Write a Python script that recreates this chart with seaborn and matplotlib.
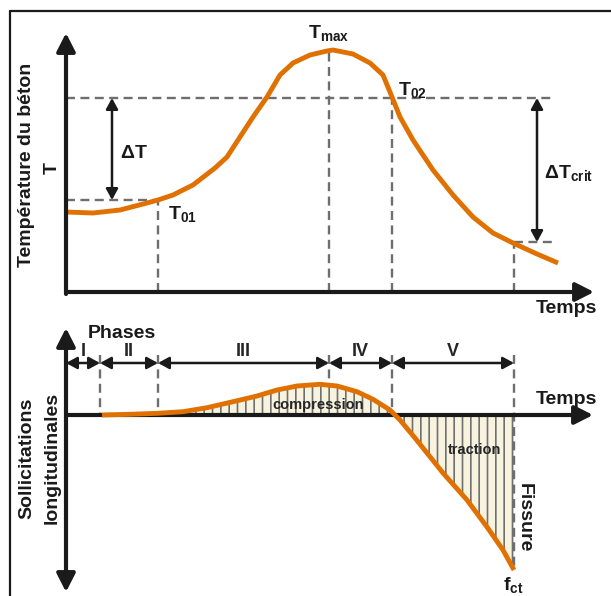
import matplotlib
matplotlib.use("Agg")
import matplotlib.pyplot as plt
from matplotlib.lines import Line2D
import seaborn as sns

# temperature curve (time and temperature in arbitrary units)
time_temp = [0.0, 2.7, 5.4, 8.1, 9.2, 10.7, 12.7, 14.9, 16.1, 17.4, 18.7, 20.1,
             21.4, 22.7, 24.4, 26.1, 26.7, 28.7, 30.4, 31.7, 32.6, 33.4, 34.7,
             36.7, 38.7, 40.7, 42.7, 44.7, 47.1, 49.2]
temperature = [8.0, 7.9, 8.2, 8.9, 9.2, 9.7, 10.7, 12.4, 13.5, 15.5, 17.5, 19.5,
               21.7, 22.9, 23.7, 24.1, 24.2, 23.8, 22.9, 21.7, 19.5, 17.5, 15.2,
               12.2, 9.7, 7.5, 5.9, 4.9, 3.8, 2.9]

# longitudinal stress curve
time_stress = [3.6, 6.4, 9.2, 11.7, 14.1, 16.7, 19.1, 21.1, 23.1, 25.4, 27.1,
               29.1, 30.7, 32.4, 33.4, 34.9, 37.7, 40.1, 42.1, 43.7, 44.8]
stress = [0.0, 0.07, 0.17, 0.33, 0.73, 1.33, 1.9, 2.5, 2.9, 3.07, 2.9,
          2.33, 1.57, 0.5, -0.5, -2.3, -5.8, -8.5, -11.2, -13.5, -15.5]

# key instants and levels
t01, tmax, t02, tcrit = 9.2, 26.3, 32.6, 44.8
T01, Tmax, T02, Tcrit = 9.2, 24.2, 19.4, 5.0
phase_bounds = [0.0, 3.4, 9.2, 26.3, 32.6, 44.8]
phase_labels = ["I", "II", "III", "IV", "V"]
stress_at_tmax = 3.05
stress_at_crack = -15.5

orange = "#E07000"
dash_col = "#6e6e6e"
dash = (0, (3.8, 2.3))
dash_lw = 1.7

sns.set_theme(style="white")
plt.rcParams["font.family"] = ["Liberation Sans", "DejaVu Sans"]
plt.rcParams["mathtext.fontset"] = "custom"
plt.rcParams["mathtext.rm"] = "Liberation Sans"
plt.rcParams["mathtext.bf"] = "Liberation Sans:bold"
plt.rcParams["hatch.linewidth"] = 1.2
plt.rcParams["hatch.color"] = "#707070"

W, H = 611, 596
fig = plt.figure(figsize=(W / 100, H / 100), dpi=100)

# frame around the figure (left and top edges visible)
fig.add_artist(Line2D([10 / W, 10 / W], [-0.1, 1 - 11 / H], transform=fig.transFigure, color="k", lw=1.6))
fig.add_artist(Line2D([10 / W, 1.1], [1 - 11 / H, 1 - 11 / H], transform=fig.transFigure, color="k", lw=1.6))

ax_top = fig.add_axes([66 / W, 1 - 292 / H, 534 / W, 262 / H])
ax_bot = fig.add_axes([66 / W, 1 - 595 / H, 534 / W, 270 / H])
for ax in (ax_top, ax_bot):
    ax.set_axis_off()
    ax.set_xlim(0, 53.4)
ax_top.set_ylim(0, 26.2)
ax_bot.set_ylim(-18, 9)

axis_arrow = dict(arrowstyle="-|>,head_length=0.55,head_width=0.28", lw=3.0, color="k",
                  mutation_scale=20, shrinkA=0, shrinkB=0)
axis_arrow2 = dict(axis_arrow, arrowstyle="<|-|>,head_length=0.55,head_width=0.28")
dim_arrow = dict(arrowstyle="<|-|>,head_length=0.55,head_width=0.3", lw=1.8, color="k",
                 mutation_scale=12, shrinkA=0, shrinkB=0)
curve_kw = dict(color=orange, lw=3.5, estimator=None, sort=False,
                solid_joinstyle="round", solid_capstyle="butt")


def dashed(ax, xs, ys):
    ax.plot(xs, ys, ls=dash, color=dash_col, lw=dash_lw, zorder=1)


# ---------------- top panel: temperature ----------------
ax = ax_top
dashed(ax, [0, tcrit + 4.1], [T02, T02])
dashed(ax, [0, t01], [T01, T01])
dashed(ax, [t01, t01], [0, T01])
dashed(ax, [tmax, tmax], [0, Tmax])
dashed(ax, [t02, t02], [0, T02])
dashed(ax, [tcrit, tcrit], [0, Tcrit])
dashed(ax, [tcrit, tcrit + 4.1], [Tcrit, Tcrit])

sns.lineplot(x=time_temp, y=temperature, ax=ax, zorder=3, **curve_kw)
ax.set_axis_off()

ax.annotate("", xy=(0, 25.9), xytext=(0, -0.2), arrowprops=axis_arrow, annotation_clip=False)
ax.annotate("", xy=(52.8, 0), xytext=(0, 0), arrowprops=axis_arrow, annotation_clip=False)
ax.annotate("", xy=(4.6, T02), xytext=(4.6, T01), arrowprops=dim_arrow)
ax.annotate("", xy=(47.1, T02), xytext=(47.1, Tcrit), arrowprops=dim_arrow)

txt = dict(fontsize=14, fontweight="bold", color="k")
ax.text(5.4, 13.9, r"$\mathbf{\Delta T}$", ha="left", va="center", **txt)
ax.text(47.8, 11.9, r"$\mathbf{\Delta T_{crit}}$", ha="left", va="center", **txt)
ax.text(tmax, 24.9, r"$\mathbf{T_{max}}$", ha="center", va="bottom", **txt)
ax.text(33.2, 20.2, r"$\mathbf{T_{02}}$", ha="left", va="center", **txt)
ax.text(10.2, 7.8, r"$\mathbf{T_{01}}$", ha="left", va="center", **txt)
ax.text(53.1, -1.6, "Temps", ha="right", va="center", clip_on=False, **txt)

fig.text(27 / W, 1 - 165 / H, "Température du béton", rotation=90, ha="center", va="center", **txt)
fig.text(52 / W, 1 - 168 / H, "T", rotation=90, ha="center", va="center", **txt)

# ---------------- bottom panel: stresses ----------------
ax = ax_bot
ax.fill_between(time_stress, stress, 0, facecolor="#F7F3DF", edgecolor="#707070",
                hatch="||", lw=0, zorder=1)
sns.lineplot(x=time_stress, y=stress, ax=ax, zorder=4, **curve_kw)
ax.set_axis_off()

for b in phase_bounds[1:]:
    bottom = 0.0
    if b == tmax:
        bottom = stress_at_tmax
    elif b == tcrit:
        bottom = stress_at_crack
    dashed(ax, [b, b], [6.0, bottom])

ax.annotate("", xy=(52.7, 0), xytext=(0, 0), arrowprops=axis_arrow, annotation_clip=False)
ax.annotate("", xy=(0, 8.7), xytext=(0, -17.7), arrowprops=axis_arrow2, annotation_clip=False)

for a, b, lab in zip(phase_bounds[:-1], phase_bounds[1:], phase_labels):
    ax.annotate("", xy=(b, 5.2), xytext=(a, 5.2), arrowprops=dim_arrow, annotation_clip=False)
    ax.text((a + b) / 2, 6.3, lab, ha="center", va="center", fontsize=13, fontweight="bold")

ax.text(5.6, 8.2, "Phases", ha="center", va="center", **txt)
ax.text(53.1, 1.5, "Temps", ha="right", va="center", **txt)
ax.text(25.2, 1.0, "compression", ha="center", va="center", fontsize=10.5, fontweight="bold", zorder=5)
ax.text(40.9, -3.5, "traction", ha="center", va="center", fontsize=10.5, fontweight="bold", zorder=5)
ax.text(45.8, -10.3, "Fissure", rotation=-90, ha="center", va="center", **txt)
ax.text(44.7, -17.0, r"$\mathbf{f_{ct}}$", ha="center", va="center", clip_on=False, **txt)

fig.text(27 / W, 1 - 458 / H, "Sollicitations", rotation=90, ha="center", va="center", **txt)
fig.text(52 / W, 1 - 458 / H, "longitudinales", rotation=90, ha="center", va="center", **txt)

fig.savefig("out.png", dpi=100)
